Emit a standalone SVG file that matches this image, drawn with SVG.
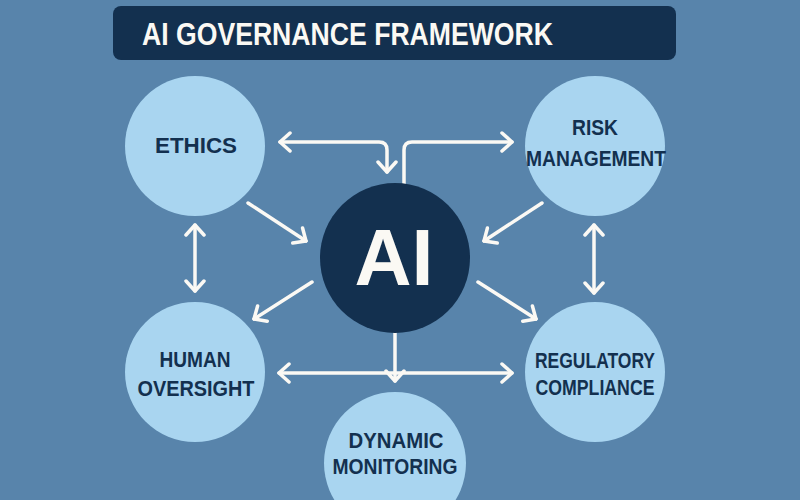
<svg xmlns="http://www.w3.org/2000/svg" width="800" height="500" viewBox="0 0 800 500">
<style>
.node{fill:#A9D5F0}
.lbl{font-family:"Liberation Sans",Arial,sans-serif;font-weight:bold;font-size:22px;fill:#13304F;text-anchor:middle}
.conn{fill:none;stroke:#FBF9F4;stroke-width:3.5;stroke-linecap:round;stroke-linejoin:round}
</style>
<defs>
<marker id="ah" viewBox="0 0 14 22" refX="12" refY="11" markerWidth="14" markerHeight="22" markerUnits="userSpaceOnUse" orient="auto-start-reverse">
<path d="M2,2 L12,11 L2,20" fill="none" stroke="#FBF9F4" stroke-width="3.5" stroke-linecap="round" stroke-linejoin="round"/>
</marker>
</defs>
<rect width="800" height="500" fill="#5884AB"/>
<g id="title">
<rect x="113" y="6" width="563" height="54" rx="8" fill="#13304F"/>
<text x="142" y="45" font-family="'Liberation Sans',Arial,sans-serif" font-weight="bold" font-size="31" fill="#FBF9F4" textLength="411" lengthAdjust="spacingAndGlyphs">AI GOVERNANCE FRAMEWORK</text>
</g>
<g id="connectors">
<path class="conn" d="M387,172 V150 Q387,142 379,142 H280" marker-start="url(#ah)" marker-end="url(#ah)"/>
<path class="conn" d="M404,185 V150 Q404,142 412,142 H512" marker-end="url(#ah)"/>
<line class="conn" x1="248" y1="203" x2="306" y2="241" marker-end="url(#ah)"/>
<line class="conn" x1="542" y1="203" x2="484" y2="241" marker-end="url(#ah)"/>
<line class="conn" x1="312" y1="282" x2="254" y2="319" marker-end="url(#ah)"/>
<line class="conn" x1="478" y1="282" x2="536" y2="319" marker-end="url(#ah)"/>
<line class="conn" x1="195" y1="225" x2="195" y2="291" marker-start="url(#ah)" marker-end="url(#ah)"/>
<line class="conn" x1="594" y1="225" x2="594" y2="293" marker-start="url(#ah)" marker-end="url(#ah)"/>
<line class="conn" x1="395" y1="333" x2="395" y2="381" marker-end="url(#ah)"/>
<line class="conn" x1="279" y1="373" x2="512" y2="373" marker-start="url(#ah)" marker-end="url(#ah)"/>
</g>
<g id="ethics">
<circle class="node" cx="195" cy="146" r="70"/>
<text class="lbl" x="196" y="153" textLength="82" lengthAdjust="spacingAndGlyphs">ETHICS</text>
</g>
<g id="risk">
<circle class="node" cx="595" cy="146" r="70"/>
<text class="lbl" x="595" y="135" textLength="46" lengthAdjust="spacingAndGlyphs">RISK</text>
<text class="lbl" x="596" y="166" textLength="140" lengthAdjust="spacingAndGlyphs">MANAGEMENT</text>
</g>
<g id="ai">
<circle cx="395" cy="258" r="75" fill="#13304F"/>
<text x="394" y="285" font-family="'Liberation Sans',Arial,sans-serif" font-weight="bold" font-size="79" fill="#FBF9F4" text-anchor="middle">AI</text>
</g>
<g id="human">
<circle class="node" cx="195" cy="372" r="70"/>
<text class="lbl" x="195" y="367" textLength="71" lengthAdjust="spacingAndGlyphs">HUMAN</text>
<text class="lbl" x="196" y="396" textLength="117" lengthAdjust="spacingAndGlyphs">OVERSIGHT</text>
</g>
<g id="regulatory">
<circle class="node" cx="595" cy="372" r="70"/>
<text class="lbl" x="595" y="368" textLength="120" lengthAdjust="spacingAndGlyphs">REGULATORY</text>
<text class="lbl" x="595" y="395" textLength="119" lengthAdjust="spacingAndGlyphs">COMPLIANCE</text>
</g>
<g id="dynamic">
<circle class="node" cx="395" cy="463" r="71"/>
<text class="lbl" x="396" y="448" textLength="95" lengthAdjust="spacingAndGlyphs">DYNAMIC</text>
<text class="lbl" x="395" y="474" textLength="125" lengthAdjust="spacingAndGlyphs">MONITORING</text>
</g>
</svg>
